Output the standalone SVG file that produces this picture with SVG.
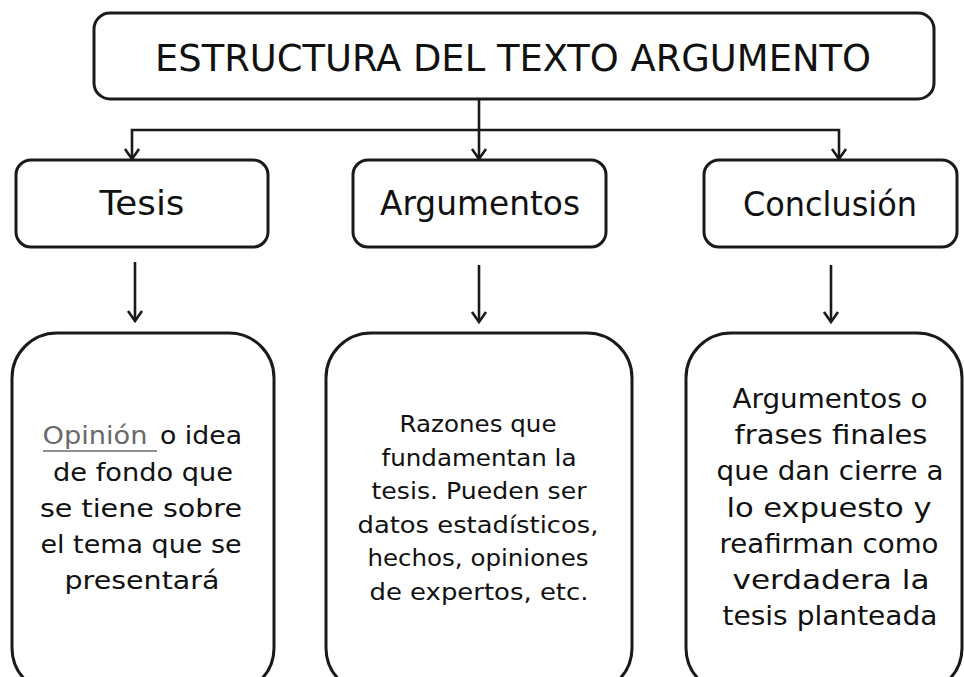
<svg xmlns="http://www.w3.org/2000/svg" width="964" height="677" viewBox="0 0 964 677">
  <style>
    .box { fill: #ffffff; stroke: #1a1a1a; stroke-width: 3; }
    .conn { fill: none; stroke: #1a1a1a; stroke-width: 2.6; }
    .t { font-family: "Comic Sans MS", "DejaVu Sans", sans-serif; fill: #111111; text-anchor: middle; }
    .title { font-size: 38px; }
    .head { font-size: 34px; }
    .bodyL { font-size: 25px; }
    .bodyM { font-size: 22.5px; }
    .bodyR { font-size: 27px; }
  </style>
  <defs>
    <marker id="arr" markerUnits="userSpaceOnUse" markerWidth="24" markerHeight="24" refX="0" refY="0" orient="auto" overflow="visible">
      <path d="M-10,-7 L0,0 L-10,7" fill="none" stroke="#1a1a1a" stroke-width="2.6" stroke-linejoin="miter"/>
    </marker>
  </defs>
  <rect width="964" height="677" fill="#ffffff"/>

  <g id="connectors">
    <path class="conn" d="M479,130 H132 V159" marker-end="url(#arr)"/>
    <path class="conn" d="M479,130 H839 V159" marker-end="url(#arr)"/>
    <path class="conn" d="M479,99 V159" marker-end="url(#arr)"/>
    <path class="conn" d="M135,262 V321" marker-end="url(#arr)"/>
    <path class="conn" d="M479,265 V322" marker-end="url(#arr)"/>
    <path class="conn" d="M831,265 V322" marker-end="url(#arr)"/>
  </g>

  <g id="title">
    <rect class="box" x="94" y="13" width="840" height="86" rx="16"/>
    <text class="t title" x="513" y="71" textLength="716" lengthAdjust="spacingAndGlyphs">ESTRUCTURA DEL TEXTO ARGUMENTO</text>
  </g>

  <g id="tesis">
    <rect class="box" x="16" y="160" width="252" height="87" rx="15"/>
    <text class="t head" x="142" y="215" textLength="85" lengthAdjust="spacingAndGlyphs">Tesis</text>
  </g>

  <g id="argumentos">
    <rect class="box" x="353" y="160" width="253" height="87" rx="15"/>
    <text class="t head" x="480" y="215" textLength="200" lengthAdjust="spacingAndGlyphs">Argumentos</text>
  </g>

  <g id="conclusion">
    <rect class="box" x="704" y="160" width="253" height="87" rx="15"/>
    <text class="t head" x="830" y="216" textLength="174" lengthAdjust="spacingAndGlyphs">Conclusión</text>
  </g>

  <g id="tesis-desc">
    <rect class="box" x="12" y="333" width="262" height="360" rx="45"/>
    <text class="t bodyL" x="95" y="444" textLength="105" lengthAdjust="spacingAndGlyphs" style="fill:#6a6a6a">Opinión</text>
    <line x1="43" y1="451" x2="157" y2="451" stroke="#6a6a6a" stroke-width="1.6"/>
    <text class="t bodyL" x="201" y="444" textLength="82" lengthAdjust="spacingAndGlyphs">o idea</text>
    <text class="t bodyL" x="143" y="481" textLength="180" lengthAdjust="spacingAndGlyphs">de fondo que</text>
    <text class="t bodyL" x="141" y="517" textLength="202" lengthAdjust="spacingAndGlyphs">se tiene sobre</text>
    <text class="t bodyL" x="141" y="553" textLength="201" lengthAdjust="spacingAndGlyphs">el tema que se</text>
    <text class="t bodyL" x="142" y="589" textLength="155" lengthAdjust="spacingAndGlyphs">presentará</text>
  </g>

  <g id="argumentos-desc">
    <rect class="box" x="326" y="333" width="306" height="360" rx="45"/>
    <text class="t bodyM" x="478" y="432" textLength="157" lengthAdjust="spacingAndGlyphs">Razones que</text>
    <text class="t bodyM" x="479" y="466" textLength="195" lengthAdjust="spacingAndGlyphs">fundamentan la</text>
    <text class="t bodyM" x="479" y="499" textLength="215" lengthAdjust="spacingAndGlyphs">tesis. Pueden ser</text>
    <text class="t bodyM" x="478" y="533" textLength="241" lengthAdjust="spacingAndGlyphs">datos estadísticos,</text>
    <text class="t bodyM" x="478" y="566" textLength="221" lengthAdjust="spacingAndGlyphs">hechos, opiniones</text>
    <text class="t bodyM" x="479" y="600" textLength="219" lengthAdjust="spacingAndGlyphs">de expertos, etc.</text>
  </g>

  <g id="conclusion-desc">
    <rect class="box" x="686" y="333" width="276" height="360" rx="45"/>
    <text class="t bodyR" x="830" y="408" textLength="195" lengthAdjust="spacingAndGlyphs">Argumentos o</text>
    <text class="t bodyR" x="831" y="444" textLength="193" lengthAdjust="spacingAndGlyphs">frases finales</text>
    <text class="t bodyR" x="830" y="480" textLength="227" lengthAdjust="spacingAndGlyphs">que dan cierre a</text>
    <text class="t bodyR" x="829" y="517" textLength="205" lengthAdjust="spacingAndGlyphs">lo expuesto y</text>
    <text class="t bodyR" x="829" y="553" textLength="219" lengthAdjust="spacingAndGlyphs">reafirman como</text>
    <text class="t bodyR" x="831" y="589" textLength="197" lengthAdjust="spacingAndGlyphs">verdadera la</text>
    <text class="t bodyR" x="830" y="625" textLength="215" lengthAdjust="spacingAndGlyphs">tesis planteada</text>
  </g>
</svg>
